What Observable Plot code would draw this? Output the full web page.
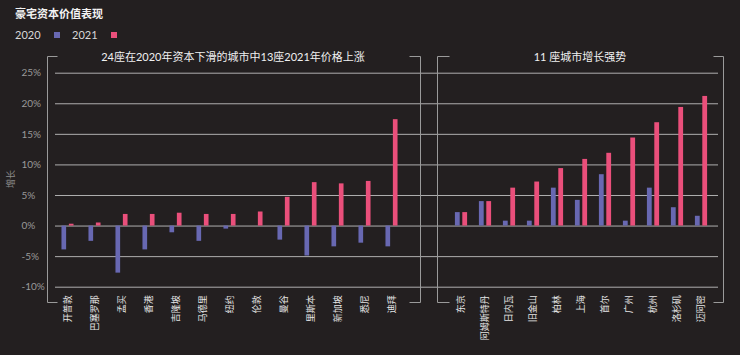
<!DOCTYPE html>
<html><head><meta charset="utf-8">
<script src="https://cdn.jsdelivr.net/npm/d3@7"></script>
<script src="https://cdn.jsdelivr.net/npm/@observablehq/plot@0.6"></script>
<style>
html,body{margin:0;padding:0;background:#231f20;}
#wrap{position:relative;width:740px;height:355px;background:#231f20;overflow:hidden;font-family:Lato,"Noto Sans CJK SC",sans-serif;}
#wrap svg.plot{position:absolute;top:45px;}
#deco{position:absolute;left:0;top:0;}
</style></head>
<body><div id="wrap"></div>
<script>
const title = "豪宅资本价值表现";
const years = ["2020", "2021"];
const colors = ["#6868b2", "#ea4f7b"];
const leftTitle = "24座在2020年资本下滑的城市中13座2021年价格上涨";
const rightTitle = "11 座城市增长强势";
const yLabel = "增长";
const yTicks = [-10, -5, 0, 5, 10, 15, 20, 25];

const leftCities = ["开普敦","巴塞罗那","孟买","香港","吉隆坡","马德里","纽约","伦敦","曼谷","里斯本","新加坡","悉尼","迪拜"];
const left2020 = [-3.9, -2.5, -7.7, -3.9, -1.1, -2.5, -0.5, 0, -2.3, -4.9, -3.4, -2.8, -3.4];
const left2021 = [0.3, 0.5, 1.9, 1.9, 2.1, 1.9, 1.9, 2.3, 4.7, 7.1, 6.9, 7.3, 17.4];

const rightCities = ["东京","阿姆斯特丹","日内瓦","旧金山","柏林","上海","首尔","广州","杭州","洛杉矶","迈阿密"];
const right2020 = [2.2, 4.0, 0.8, 0.8, 6.2, 4.2, 8.4, 0.8, 6.2, 3.0, 1.6];
const right2021 = [2.2, 4.0, 6.2, 7.2, 9.4, 10.9, 11.9, 14.4, 16.9, 19.4, 21.2];

function rows(cities, a, b) {
  const out = [];
  cities.forEach((c, i) => {
    out.push({city: c, year: years[0], value: a[i]});
    out.push({city: c, year: years[1], value: b[i]});
  });
  return out;
}

function panel({cities, data, width, marginLeft, marginRight, range, showY, left}) {
  const step = (range[1] - range[0]) / cities.length;
  const barW = 5;
  const inset = (step - barW) / 2;
  const marks = [
    Plot.gridY(yTicks, {stroke: "#c8c8c8", strokeOpacity: 0.85, strokeWidth: 1}),
    Plot.barY(data.filter(d => d.year === years[0]), {x: "city", y: "value", fill: colors[0], insetLeft: inset, insetRight: inset, dx: -3.7}),
    Plot.barY(data.filter(d => d.year === years[1]), {x: "city", y: "value", fill: colors[1], insetLeft: inset, insetRight: inset, dx: 3.7}),
    Plot.axisX({tickRotate: -90, tickSize: 0, tickPadding: 8, fontSize: 9, fill: "#e6e6e6", label: null})
  ];
  if (showY) marks.push(Plot.axisY(yTicks, {tickSize: 0, tickPadding: 34, textAnchor: "start", tickFormat: d => d + "%", fontSize: 10, fill: "#9a9a9a", label: null}));
  const svg = Plot.plot({
    width, height: 310,
    marginLeft, marginRight, marginTop: 27.7, marginBottom: 68.3,
    style: {background: "transparent", color: "#cccccc", fontFamily: 'Lato,"Noto Sans CJK SC",sans-serif', overflow: "visible"},
    x: {domain: cities, range, padding: 0, axis: null},
    y: {domain: [-10, 25], axis: null},
    marks
  });
  svg.classList.add("plot");
  svg.style.left = left + "px";
  svg.style.position = "absolute";
  svg.style.top = "45px";
  return svg;
}

const wrap = document.getElementById("wrap");
wrap.appendChild(panel({cities: leftCities, data: rows(leftCities, left2020, left2021), width: 428, marginLeft: 55, marginRight: 0, range: [52.3, 407.7], showY: true, left: 0}));
wrap.appendChild(panel({cities: rightCities, data: rows(rightCities, right2020, right2021), width: 312, marginLeft: 0, marginRight: 22, range: [19.9, 286.1], showY: false, left: 428}));

// decoration overlay
const deco = d3.select(wrap).append("svg").attr("id", "deco").attr("width", 740).attr("height", 355);
const font = 'Lato,"Noto Sans CJK SC",sans-serif';
deco.append("text").attr("x", 15).attr("y", 18).attr("fill", "#f2f2f2").attr("font-size", 11).attr("font-weight", "bold").attr("font-family", font).text(title);
// legend
const lg = deco.append("g").attr("font-family", font).attr("font-size", 11).attr("fill", "#d8d8d8");
lg.append("text").attr("x", 15).attr("y", 39).text(years[0]);
lg.append("rect").attr("x", 54).attr("y", 32).attr("width", 6).attr("height", 6).attr("fill", colors[0]);
lg.append("text").attr("x", 72).attr("y", 39).text(years[1]);
lg.append("rect").attr("x", 111).attr("y", 32).attr("width", 6).attr("height", 6).attr("fill", colors[1]);
// panel titles
deco.append("text").attr("x", 233).attr("y", 61).attr("text-anchor", "middle").attr("fill", "#f0f0f0").attr("font-size", 11).attr("font-family", font).text(leftTitle);
deco.append("text").attr("x", 580).attr("y", 61).attr("text-anchor", "middle").attr("fill", "#f0f0f0").attr("font-size", 11).attr("font-family", font).text(rightTitle);
// y label
deco.append("text").attr("transform", "translate(14,179) rotate(-90)").attr("text-anchor", "middle").attr("fill", "#8a8a8a").attr("font-size", 9).attr("font-family", font).text(yLabel);
// brackets
const br = deco.append("g").attr("stroke", "#9a9a9a").attr("fill", "none").attr("stroke-width", 1);
[[47.5, 57.5], [420.5, 409.5], [437.5, 449.5], [723.5, 713.5]].forEach(([x, x2]) => {
  br.append("path").attr("d", `M${x2},56.5H${x}V302.5H${x2}`);
});
</script></body></html>
